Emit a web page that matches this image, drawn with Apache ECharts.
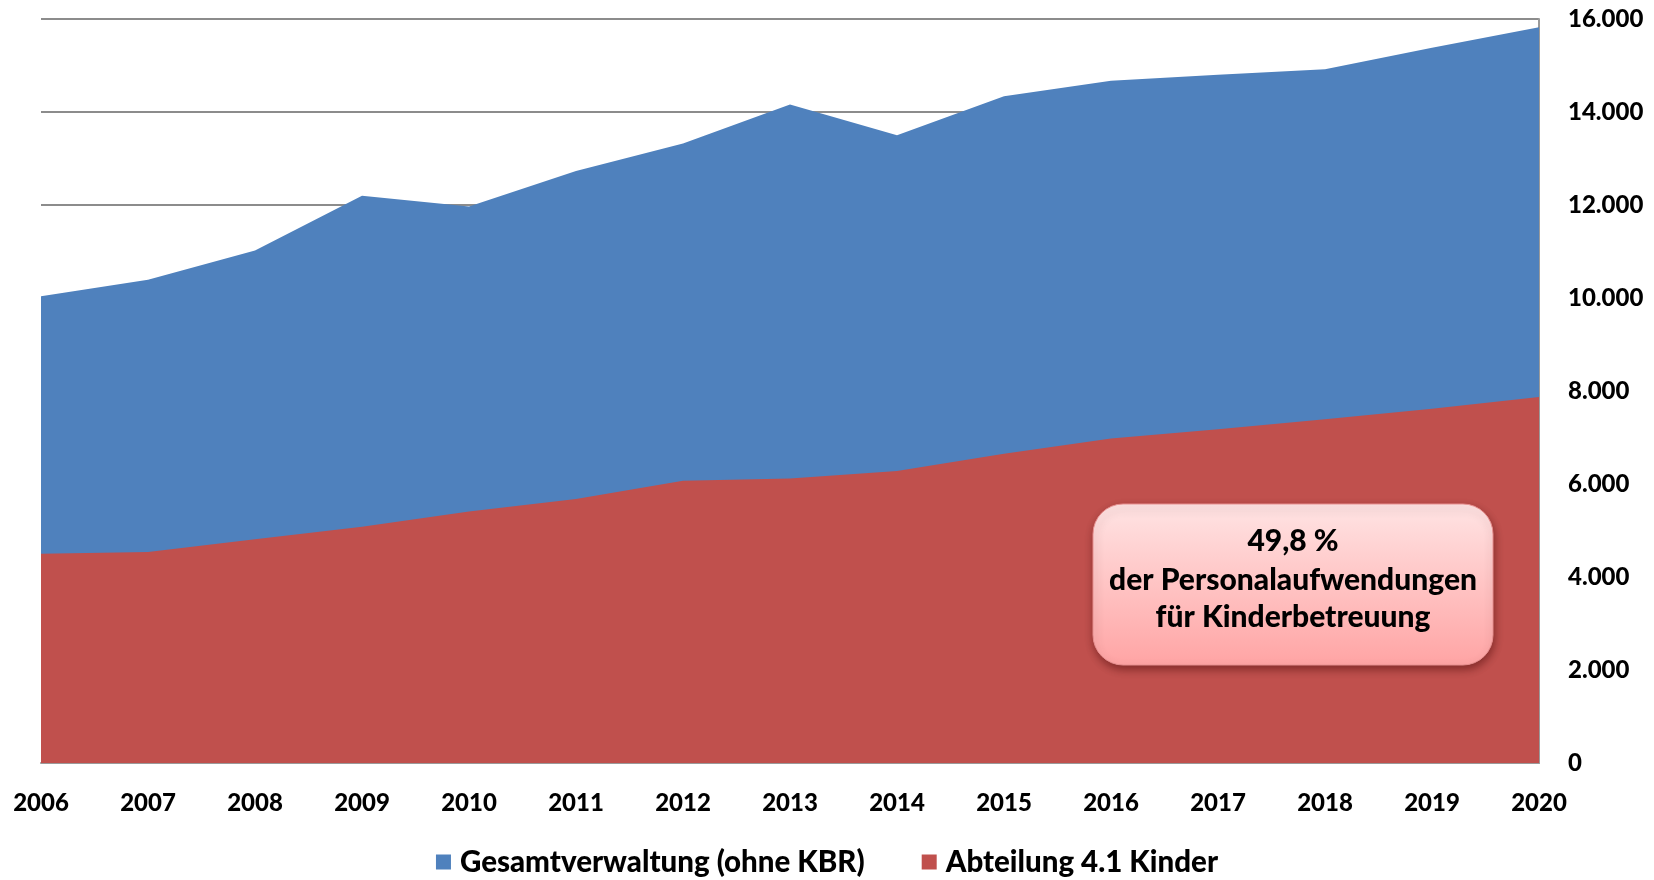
<!DOCTYPE html>
<html>
<head>
<meta charset="utf-8">
<script src="https://cdn.jsdelivr.net/npm/echarts@6/dist/echarts.min.js"></script>
<style>
html,body{margin:0;padding:0;background:#fff;}
#chart{width:1654px;height:880px;}
</style>
</head>
<body>
<div id="chart"></div>
<script>
const years = ['2006','2007','2008','2009','2010','2011','2012','2013','2014','2015','2016','2017','2018','2019','2020'];
const gesamtverwaltung = [10040,10390,11020,12200,11970,12730,13320,14160,13500,14340,14670,14800,14920,15380,15820];
const abteilungKinder = [4500,4540,4810,5080,5410,5680,6070,6120,6280,6650,6980,7180,7390,7620,7870];
const seriesNames = ['Gesamtverwaltung (ohne KBR)','Abteilung 4.1 Kinder'];
const noteLines = ['49,8 %','der Personalaufwendungen','für Kinderbetreuung'];

const FONT = 'Lato, "Open Sans", sans-serif';
const WEIGHT = 900;
const chart = echarts.init(document.getElementById('chart'), null, {renderer:'canvas'});

function fmt(v){ return String(v).replace(/\B(?=(\d{3})+(?!\d))/g,'.'); }

const boxX = 1093, boxY = 504, boxW = 400, boxH = 161;
function noteText(i, dy){
  return {type:'text',z:101,x:boxX+boxW/2,y:boxY+dy,
    style:{text:noteLines[i],fontFamily:FONT,fontWeight:WEIGHT,fontSize:30,fill:'#000',align:'center',verticalAlign:'middle'}};
}

chart.setOption({
  animation:false,
  backgroundColor:'#ffffff',
  grid:{left:41,right:115,top:19,bottom:117,containLabel:false},
  legend:{
    bottom:-2,left:'center',
    itemWidth:15,itemHeight:15,itemGap:57,
    icon:'rect',
    textStyle:{fontFamily:FONT,fontWeight:WEIGHT,fontSize:29.5,color:'#000',padding:[0,0,0,4]},
    data:seriesNames
  },
  xAxis:{
    type:'category',data:years,boundaryGap:false,
    axisLine:{show:true,lineStyle:{color:'#9a9a9a',width:2}},
    axisTick:{show:false},
    axisLabel:{fontFamily:FONT,fontWeight:WEIGHT,fontSize:24,color:'#000',margin:28,interval:0},
    splitLine:{show:false}
  },
  yAxis:{
    type:'value',position:'right',min:0,max:16000,interval:2000,
    axisLine:{show:true,lineStyle:{color:'#9a9a9a',width:2}},
    axisTick:{show:false},
    axisLabel:{fontFamily:FONT,fontWeight:WEIGHT,fontSize:24,color:'#000',margin:29,align:'left',formatter:fmt},
    splitLine:{show:true,lineStyle:{color:'#8c8c8c',width:2}}
  },
  series:[
    {name:seriesNames[0],type:'line',data:gesamtverwaltung,symbol:'none',
     itemStyle:{color:'#4F81BD'},lineStyle:{width:0,color:'#4F81BD'},
     areaStyle:{color:'#4F81BD',opacity:1}},
    {name:seriesNames[1],type:'line',data:abteilungKinder,symbol:'none',
     itemStyle:{color:'#C0504D'},lineStyle:{width:0,color:'#C0504D'},
     areaStyle:{color:'#C0504D',opacity:1}}
  ],
  graphic:{elements:[
    {type:'rect',z:100,x:boxX,y:boxY,shape:{x:0,y:0,width:boxW,height:boxH,r:30},
     style:{fill:{type:'linear',x:0,y:0,x2:0,y2:1,colorStops:[{offset:0,color:'#FFE4E4'},{offset:1,color:'#FFA4A4'}]},
            stroke:'#E89090',lineWidth:1,shadowBlur:8,shadowOffsetY:4,shadowOffsetX:1,shadowColor:'rgba(60,0,0,0.45)'}},
    noteText(0,37),
    noteText(1,76),
    noteText(2,113)
  ]}
});
</script>
</body>
</html>
